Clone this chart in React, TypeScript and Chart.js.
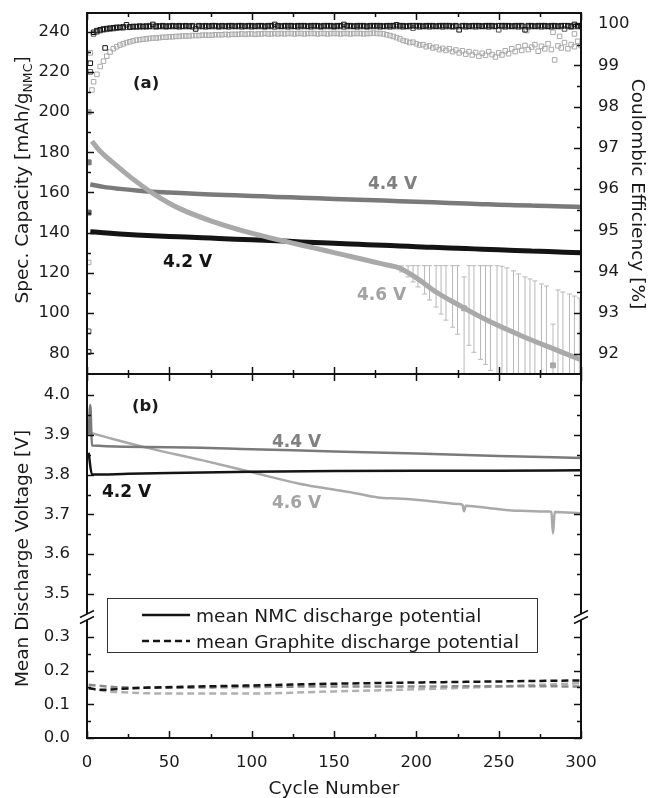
import { useEffect, useRef } from 'react';
import { Chart, registerables } from 'chart.js';

Chart.register(...registerables);

// ================= DATA =================
// (a) specific discharge capacity [mAh/g_NMC]
const capCycles = [2, 10, 20, 30, 40, 50, 60, 75, 90, 100, 115, 130, 150, 165, 180, 190, 200, 210, 220, 230, 240, 250, 260, 270, 280, 290, 300];
const cap42 = [140.5, 140.0, 139.4, 138.9, 138.5, 138.1, 137.8, 137.3, 136.8, 136.5, 136.0, 135.4, 134.7, 134.2, 133.7, 133.4, 133.0, 132.7, 132.4, 132.1, 131.8, 131.5, 131.2, 130.9, 130.6, 130.3, 130.0];
const cap44 = [164.0, 162.8, 161.8, 161.0, 160.4, 160.0, 159.6, 159.0, 158.6, 158.3, 157.8, 157.4, 156.8, 156.4, 156.0, 155.7, 155.4, 155.1, 154.8, 154.5, 154.2, 153.9, 153.7, 153.5, 153.3, 153.0, 152.8];
const cap46Cycles = [3, 8, 16, 26, 40, 56, 77, 97, 117, 137, 150, 162, 175, 182, 190, 196, 202, 212, 226, 243, 263, 283, 300];
const cap46 = [185.5, 180.5, 174.7, 167.9, 159.6, 152.1, 145.4, 140.4, 136.3, 132.6, 130.1, 127.8, 125.3, 124.0, 122.4, 119.6, 116.4, 110.5, 103.9, 96.4, 89.0, 82.3, 76.8];
const firstCycle = [1];
const cap42First = [150.0];
const cap44First = [175.0];
const cap46First = [200.0];
const cap46DipCycles = [229, 283];
const cap46Dips = [102.4, 74.0];

// 4.6 V error bars
const errCycles = [188, 191, 195, 198, 201, 205, 208, 212, 215, 218, 222, 225, 229, 232, 235, 239, 242, 245, 249, 252, 255, 259, 262, 266, 269, 272, 276, 279, 283, 286, 289, 293, 296, 299];
const errHigh = [123.5, 123.5, 123.5, 123.6, 123.6, 123.6, 123.6, 123.6, 123.6, 123.6, 123.6, 123.6, 118.0, 123.6, 123.6, 123.6, 123.6, 123.6, 123.6, 123.3, 122.5, 121.0, 119.5, 118.0, 117.0, 116.0, 114.5, 113.5, 94.5, 111.5, 110.5, 109.5, 108.5, 107.5];
const errLow = [122.5, 120.5, 118.0, 115.5, 113.0, 109.5, 106.5, 103.0, 99.5, 96.5, 93.0, 89.5, 60.0, 84.0, 80.5, 77.0, 74.5, 71.5, 60.0, 60.0, 60.0, 60.0, 60.0, 60.0, 60.0, 60.0, 60.0, 60.0, 60.0, 60.0, 60.0, 60.0, 60.0, 60.0];

// Coulombic efficiency [%]
const ceCycles = [
  4, 6, 8, 10, 12, 14, 16, 18, 20, 22,
  24, 26, 28, 30, 32, 34, 36, 38, 40, 42,
  44, 46, 48, 50, 52, 54, 56, 58, 60, 62,
  64, 66, 68, 70, 72, 74, 76, 78, 80, 82,
  84, 86, 88, 90, 92, 94, 96, 98, 100, 102,
  104, 106, 108, 110, 112, 114, 116, 118, 120, 122,
  124, 126, 128, 130, 132, 134, 136, 138, 140, 142,
  144, 146, 148, 150, 152, 154, 156, 158, 160, 162,
  164, 166, 168, 170, 172, 174, 176, 178, 180, 182,
  184, 186, 188, 190, 192, 194, 196, 198, 200, 202,
  204, 206, 208, 210, 212, 214, 216, 218, 220, 222,
  224, 226, 228, 230, 232, 234, 236, 238, 240, 242,
  244, 246, 248, 250, 252, 254, 256, 258, 260, 262,
  264, 266, 268, 270, 272, 274, 276, 278, 280, 282,
  284, 286, 288, 290, 292, 294, 296, 298, 300];
const ce46 = [
  98.60, 98.78, 98.97, 99.10, 99.22, 99.32, 99.40, 99.45, 99.49, 99.52,
  99.55, 99.57, 99.59, 99.61, 99.62, 99.63, 99.64, 99.65, 99.66, 99.66,
  99.67, 99.68, 99.68, 99.69, 99.69, 99.70, 99.70, 99.71, 99.71, 99.71,
  99.72, 99.72, 99.72, 99.73, 99.73, 99.73, 99.73, 99.74, 99.74, 99.74,
  99.75, 99.74, 99.75, 99.75, 99.75, 99.76, 99.75, 99.76, 99.76, 99.75,
  99.76, 99.76, 99.77, 99.76, 99.76, 99.77, 99.76, 99.77, 99.76, 99.77,
  99.77, 99.76, 99.77, 99.77, 99.76, 99.77, 99.77, 99.77, 99.76, 99.77,
  99.77, 99.76, 99.77, 99.77, 99.77, 99.76, 99.77, 99.77, 99.76, 99.77,
  99.77, 99.77, 99.76, 99.77, 99.77, 99.78, 99.77, 99.77, 99.76, 99.74,
  99.72, 99.70, 99.67, 99.64, 99.60, 99.58, 99.55, 99.56, 99.52, 99.49,
  99.50, 99.45, 99.47, 99.42, 99.44, 99.38, 99.41, 99.36, 99.40, 99.33,
  99.37, 99.30, 99.35, 99.27, 99.33, 99.25, 99.31, 99.22, 99.29, 99.24,
  99.33, 99.26, 99.20, 99.30, 99.25, 99.35, 99.28, 99.40, 99.33, 99.45,
  99.36, 99.48, 99.38, 99.44, 99.50, 99.34, 99.46, 99.40, 99.52, 99.38,
  99.13, 99.47, 99.42, 99.55, 99.40, 99.50, 99.45, 99.58, 99.48];
const ce42 = [
  99.80, 99.84, 99.86, 99.88, 99.89, 99.90, 99.91, 99.92, 99.92, 99.93,
  99.98, 99.93, 99.94, 99.94, 99.95, 99.94, 99.95, 99.95, 99.99, 99.95,
  99.95, 99.96, 99.95, 99.95, 99.96, 99.95, 99.96, 99.95, 99.96, 99.95,
  99.96, 99.88, 99.96, 99.95, 99.96, 99.95, 99.96, 99.96, 99.95, 99.96,
  99.95, 99.96, 99.96, 99.95, 99.96, 99.96, 99.95, 99.96, 99.96, 99.95,
  99.96, 99.96, 99.95, 99.96, 99.96, 99.99, 99.96, 99.95, 99.96, 99.96,
  99.96, 99.95, 99.96, 99.96, 99.96, 99.95, 99.96, 99.96, 99.96, 99.95,
  99.96, 99.96, 99.96, 99.95, 99.96, 99.96, 99.99, 99.96, 99.96, 99.95,
  99.96, 99.96, 99.96, 99.95, 99.96, 99.96, 99.96, 99.96, 99.95, 99.96,
  99.96, 99.96, 99.98, 99.96, 99.96, 99.95, 99.96, 99.96, 99.96, 99.96,
  99.95, 99.96, 99.96, 99.96, 99.95, 99.96, 99.96, 99.96, 99.96, 99.95,
  99.96, 99.86, 99.96, 99.96, 99.95, 99.96, 99.96, 99.96, 99.95, 99.96,
  99.96, 99.96, 99.95, 99.96, 99.96, 99.96, 99.96, 99.95, 99.96, 99.96,
  99.96, 99.86, 99.96, 99.96, 99.95, 99.96, 99.96, 99.96, 99.95, 99.96,
  99.96, 99.95, 99.96, 99.96, 99.96, 99.95, 99.99, 99.96, 99.96];
const ce44 = [
  99.76, 99.81, 99.84, 99.86, 99.87, 99.88, 99.89, 99.90, 99.91, 99.91,
  99.92, 99.92, 99.93, 99.93, 99.93, 99.94, 99.93, 99.94, 99.94, 99.93,
  99.94, 99.94, 99.93, 99.94, 99.94, 99.94, 99.93, 99.94, 99.94, 99.94,
  99.93, 99.94, 99.94, 99.94, 99.93, 99.94, 99.94, 99.94, 99.93, 99.94,
  99.94, 99.93, 99.94, 99.94, 99.94, 99.93, 99.94, 99.94, 99.93, 99.94,
  99.94, 99.94, 99.93, 99.94, 99.94, 99.93, 99.94, 99.94, 99.94, 99.93,
  99.94, 99.94, 99.93, 99.94, 99.94, 99.94, 99.93, 99.94, 99.94, 99.93,
  99.94, 99.94, 99.94, 99.93, 99.94, 99.94, 99.93, 99.94, 99.94, 99.94,
  99.93, 99.94, 99.94, 99.93, 99.94, 99.94, 99.94, 99.93, 99.94, 99.94,
  99.93, 99.94, 99.94, 99.94, 99.93, 99.94, 99.94, 99.90, 99.94, 99.93,
  99.94, 99.94, 99.93, 99.94, 99.94, 99.94, 99.93, 99.94, 99.94, 99.93,
  99.94, 99.94, 99.94, 99.93, 99.94, 99.94, 99.93, 99.94, 99.94, 99.94,
  99.93, 99.94, 99.94, 99.86, 99.94, 99.93, 99.94, 99.94, 99.94, 99.93,
  99.94, 99.94, 99.93, 99.94, 99.94, 99.94, 99.93, 99.94, 99.94, 99.93,
  99.94, 99.94, 99.94, 99.88, 99.94, 99.93, 99.94, 99.94, 99.94];
const ce42ExtraCycles = [1, 2, 11];
const ce42Extra = [92.05, 99.05, 99.42];
const ce44ExtraCycles = [1, 2];
const ce44Extra = [92.55, 98.84];
const ce46ExtraCycles = [1, 2, 3, 267, 283, 287, 296];
const ce46Extra = [94.22, 99.30, 98.40, 99.84, 99.80, 99.70, 99.76];

// (b) mean NMC discharge potential [V]
const v42Cycles = [1, 3, 25, 50, 100, 150, 200, 250, 300];
const v42 = [3.855, 3.800, 3.802, 3.804, 3.807, 3.809, 3.810, 3.810, 3.811];
const v44Cycles = [1, 2, 3, 50, 100, 150, 200, 250, 300];
const v44 = [3.900, 3.975, 3.873, 3.869, 3.864, 3.858, 3.853, 3.847, 3.842];
const v46Cycles = [2, 10, 18, 38, 69, 99, 129, 141, 162, 180, 188, 212, 226, 228, 229, 230, 246, 263, 281, 282, 283, 284, 300];
const v46 = [3.905, 3.896, 3.887, 3.866, 3.837, 3.807, 3.777, 3.768, 3.754, 3.741, 3.740, 3.732, 3.726, 3.724, 3.708, 3.722, 3.715, 3.709, 3.707, 3.706, 3.652, 3.706, 3.703];

// mean graphite discharge potential [V]
const g42Cycles = [1, 8, 28, 48, 89, 147, 202, 250, 300];
const g42 = [0.148, 0.143, 0.148, 0.151, 0.155, 0.161, 0.165, 0.168, 0.171];
const g44Cycles = [1, 18, 48, 89, 147, 202, 250, 300];
const g44 = [0.158, 0.151, 0.149, 0.151, 0.153, 0.153, 0.154, 0.153];
const g46Cycles = [1, 10, 25, 50, 100, 147, 202, 250, 275, 300];
const g46 = [0.150, 0.140, 0.135, 0.132, 0.132, 0.138, 0.145, 0.153, 0.158, 0.163];

// tick values
const xTickValues = [0, 50, 100, 150, 200, 250, 300];
const xMinorTicks = [25, 75, 125, 175, 225, 275];
const capTickValues = [80, 100, 120, 140, 160, 180, 200, 220, 240];
const capMinorTicks = [90, 110, 130, 150, 170, 190, 210, 230];
const ceTickValues = [92, 93, 94, 95, 96, 97, 98, 99, 100];
const ceMinorTicks = [92.5, 93.5, 94.5, 95.5, 96.5, 97.5, 98.5, 99.5];
const vTickValues = [3.5, 3.6, 3.7, 3.8, 3.9, 4.0];
const vMinorTicks = [3.55, 3.65, 3.75, 3.85, 3.95];
const gTickValues = [0.0, 0.1, 0.2, 0.3];
const gMinorTicks = [0.05, 0.15, 0.25];

// text
const panelLabels = ['(a)', '(b)'];
const voltageLabels = ['4.2 V', '4.4 V', '4.6 V'];
const legendLabels = ['mean NMC discharge potential', 'mean Graphite discharge potential'];

// ================= STYLE =================
const C42 = '#141414';
const C44 = '#7a7a7a';
const C46 = '#a9a9a9';
const CERR = '#b8b8b8';
const FAM = '"DejaVu Sans", sans-serif';
const TXT = '#1a1a1a';

const xy = (xs: number[], ys: number[]) => xs.map((x, i) => ({ x, y: ys[i] }));

const lineDs = (label: string, xs: number[], ys: number[], color: string, width: number, yAxisID: string, extra: any = {}) => ({
  label,
  data: xy(xs, ys),
  borderColor: color,
  backgroundColor: color,
  borderWidth: width,
  pointRadius: 0,
  pointHoverRadius: 0,
  fill: false,
  cubicInterpolationMode: 'monotone',
  xAxisID: 'x',
  yAxisID,
  ...extra,
});

const pointDs = (label: string, xs: number[], ys: number[], color: string, yAxisID: string, filled: boolean, radius: number, style = 'rect') => ({
  label,
  data: xy(xs, ys),
  showLine: false,
  pointStyle: style,
  pointRadius: radius,
  pointHoverRadius: radius,
  pointBorderWidth: 1,
  borderWidth: 1,
  borderColor: color,
  pointBorderColor: color,
  pointBackgroundColor: filled ? color : 'rgba(0,0,0,0)',
  backgroundColor: filled ? color : 'rgba(0,0,0,0)',
  xAxisID: 'x',
  yAxisID,
});

const errSegments = errCycles.flatMap((c, i) => [
  { x: c, y: errLow[i] },
  { x: c, y: errHigh[i] },
  { x: c, y: null as any },
]);

const tickFont = { family: FAM, size: 16.5 };

const yScale = (opts: any, ticks: number[], fmt: (v: number) => string, width: number) => ({
  type: 'linear',
  grid: { display: false },
  border: { display: false },
  ticks: {
    font: tickFont,
    color: TXT,
    padding: 9,
    autoSkip: false,
    includeBounds: false,
    callback: (v: any) => fmt(Number(v)),
  },
  afterBuildTicks: (s: any) => {
    s.ticks = ticks.map((value) => ({ value }));
  },
  afterFit: (s: any) => {
    s.width = width;
    s.paddingTop = 0;
    s.paddingBottom = 0;
  },
  ...opts,
});

const framePlugin = {
  id: 'framePlugin',
  afterDraw(chart: any) {
    const ctx = chart.ctx as CanvasRenderingContext2D;
    const sx = chart.scales.x;
    const yc = chart.scales.yCap;
    const yce = chart.scales.yCE;
    const yv = chart.scales.yV;
    const yg = chart.scales.yG;
    const L = chart.chartArea.left;
    const R = chart.chartArea.right;
    const T = yc.top;
    const M = yc.bottom;
    const K = yg.top;
    const B = yg.bottom;

    const seg = (x1: number, y1: number, x2: number, y2: number) => {
      ctx.beginPath();
      ctx.moveTo(x1, y1);
      ctx.lineTo(x2, y2);
      ctx.stroke();
    };

    ctx.save();
    // legend box
    ctx.fillStyle = '#fff';
    ctx.fillRect(107.5, 598.5, 430, 54);
    ctx.strokeStyle = '#333';
    ctx.lineWidth = 1;
    ctx.strokeRect(107.5, 598.5, 430, 54);
    ctx.strokeStyle = C42;
    ctx.lineWidth = 2.5;
    seg(142, 615, 190, 615);
    ctx.setLineDash([7, 4]);
    seg(142, 641, 190, 641);
    ctx.setLineDash([]);
    ctx.fillStyle = TXT;
    ctx.font = `18.5px ${FAM}`;
    ctx.textAlign = 'left';
    ctx.textBaseline = 'alphabetic';
    ctx.fillText(legendLabels[0], 196, 622);
    ctx.fillText(legendLabels[1], 196, 648);

    // frames
    ctx.strokeStyle = '#111';
    ctx.lineWidth = 2;
    ctx.lineCap = 'square';
    seg(L, T, R, T);
    seg(L, M, R, M);
    seg(L, B, R, B);
    seg(L, T, L, M);
    seg(R, T, R, M);
    ctx.lineCap = 'butt';
    seg(L, M, L, K - 3);
    seg(L, K + 3, L, B);
    seg(R, M, R, K - 3);
    seg(R, K + 3, R, B);

    // break marks
    ctx.lineWidth = 1.5;
    for (const bx of [L, R]) {
      for (const by of [K - 3, K + 3]) {
        seg(bx - 7, by + 3.5, bx + 7, by - 3.5);
      }
    }

    // ticks
    ctx.lineWidth = 1.5;
    const MAJ = 7;
    const MIN = 4;
    const vTicks = (scale: any, vals: number[], x: number, dir: number, len: number) => {
      for (const v of vals) {
        const py = Math.round(scale.getPixelForValue(v)) + 0.5;
        seg(x, py, x + dir * len, py);
      }
    };
    const hTicks = (vals: number[], y: number, dir: number, len: number) => {
      for (const v of vals) {
        const px = Math.round(sx.getPixelForValue(v)) + 0.5;
        seg(px, y, px, y + dir * len);
      }
    };
    vTicks(yc, capTickValues, L, 1, MAJ);
    vTicks(yc, capMinorTicks, L, 1, MIN);
    vTicks(yce, ceTickValues, R, -1, MAJ);
    vTicks(yce, ceMinorTicks, R, -1, MIN);
    for (const [x, d] of [[L, 1], [R, -1]]) {
      vTicks(yv, vTickValues, x, d, MAJ);
      vTicks(yv, vMinorTicks, x, d, MIN);
      vTicks(yg, gTickValues, x, d, MAJ);
      vTicks(yg, gMinorTicks, x, d, MIN);
    }
    hTicks(xTickValues, T, 1, MAJ);
    hTicks(xMinorTicks, T, 1, MIN);
    hTicks(xTickValues, M, -1, MAJ);
    hTicks(xMinorTicks, M, -1, MIN);
    hTicks(xTickValues, M, 1, MAJ);
    hTicks(xMinorTicks, M, 1, MIN);
    hTicks(xTickValues, B, -1, MAJ);
    hTicks(xMinorTicks, B, -1, MIN);

    // axis titles
    const rich = (parts: { t: string; size: number; dy: number }[], x: number, y: number, rot: number) => {
      ctx.save();
      ctx.translate(x, y);
      ctx.rotate(rot);
      ctx.fillStyle = TXT;
      ctx.textAlign = 'left';
      ctx.textBaseline = 'alphabetic';
      let total = 0;
      for (const p of parts) {
        ctx.font = `${p.size}px ${FAM}`;
        total += ctx.measureText(p.t).width;
      }
      let cx = -total / 2;
      for (const p of parts) {
        ctx.font = `${p.size}px ${FAM}`;
        ctx.fillText(p.t, cx, p.dy);
        cx += ctx.measureText(p.t).width;
      }
      ctx.restore();
    };
    rich([
      { t: 'Spec. Capacity [mAh/g', size: 18.5, dy: 0 },
      { t: 'NMC', size: 12.5, dy: 4 },
      { t: ']', size: 18.5, dy: 0 },
    ], 27.5, 180, -Math.PI / 2);
    rich([{ t: 'Mean Discharge Voltage [V]', size: 18.5, dy: 0 }], 27.5, 558.5, -Math.PI / 2);
    rich([{ t: 'Coulombic Efficiency [%]', size: 18.5, dy: 0 }], 632, 194, Math.PI / 2);
    rich([{ t: 'Cycle Number', size: 18.5, dy: 0 }], (L + R) / 2, 794, 0);

    // annotations
    ctx.textAlign = 'left';
    ctx.textBaseline = 'alphabetic';
    ctx.font = `bold 16.5px ${FAM}`;
    ctx.fillStyle = TXT;
    ctx.fillText(panelLabels[0], 133, 88);
    ctx.fillText(panelLabels[1], 132, 411);
    ctx.font = `bold 17px ${FAM}`;
    ctx.fillStyle = C42;
    ctx.fillText(voltageLabels[0], 163, 266.5);
    ctx.fillText(voltageLabels[0], 102, 497);
    ctx.fillStyle = '#808080';
    ctx.fillText(voltageLabels[1], 368, 189);
    ctx.fillText(voltageLabels[1], 272, 447);
    ctx.fillStyle = '#a3a3a3';
    ctx.fillText(voltageLabels[2], 357, 299.5);
    ctx.fillText(voltageLabels[2], 272, 508);
    ctx.restore();
  },
};

export default function App() {
  const ref = useRef<HTMLCanvasElement>(null);

  useEffect(() => {
    const canvas = ref.current;
    if (!canvas) return;
    const datasets: any[] = [
      lineDs('cap 4.6 V', cap46Cycles, cap46, C46, 5, 'yCap'),
      lineDs('cap 4.4 V', capCycles, cap44, C44, 4.5, 'yCap'),
      lineDs('cap 4.2 V', capCycles, cap42, C42, 5, 'yCap'),
      pointDs('cap 4.6 V first', firstCycle, cap46First, C46, 'yCap', true, 3.5),
      pointDs('cap 4.4 V first', firstCycle, cap44First, C44, 'yCap', true, 3.5),
      pointDs('cap 4.2 V first', firstCycle, cap42First, '#666', 'yCap', true, 3.5),
      pointDs('cap 4.6 V dips', cap46DipCycles, cap46Dips, C46, 'yCap', true, 3.5),
      pointDs('err caps high', errCycles, errHigh, CERR, 'yCap', false, 2.5, 'line'),
      pointDs('err caps low', errCycles, errLow, CERR, 'yCap', false, 2.5, 'line'),
      lineDs('err bars', [], [], CERR, 1, 'yCap', { data: errSegments, spanGaps: false, cubicInterpolationMode: 'default', tension: 0 }),
      pointDs('CE 4.2 V', ceCycles, ce42, C42, 'yCE', false, 3.2),
      pointDs('CE 4.2 V extra', ce42ExtraCycles, ce42Extra, C42, 'yCE', false, 3.2),
      pointDs('CE 4.4 V', ceCycles, ce44, '#555', 'yCE', false, 3.2),
      pointDs('CE 4.4 V extra', ce44ExtraCycles, ce44Extra, '#555', 'yCE', false, 3.2),
      pointDs('CE 4.6 V', ceCycles, ce46, C46, 'yCE', false, 3.2),
      pointDs('CE 4.6 V extra', ce46ExtraCycles, ce46Extra, C46, 'yCE', false, 3.2),
      lineDs('V 4.2 V', v42Cycles, v42, C42, 2.5, 'yV'),
      lineDs('V 4.4 V', v44Cycles, v44, C44, 2.5, 'yV'),
      lineDs('V 4.6 V', v46Cycles, v46, C46, 2.5, 'yV'),
      lineDs('G 4.2 V', g42Cycles, g42, C42, 2.5, 'yG', { borderDash: [7, 4] }),
      lineDs('G 4.4 V', g44Cycles, g44, '#8a8a8a', 2.5, 'yG', { borderDash: [7, 4] }),
      lineDs('G 4.6 V', g46Cycles, g46, '#b0b0b0', 2.5, 'yG', { borderDash: [7, 4] }),
    ];

    const chart = new Chart(canvas, {
      type: 'line',
      data: { datasets },
      plugins: [framePlugin],
      options: {
        responsive: false,
        animation: false,
        devicePixelRatio: 1,
        events: [],
        layout: { padding: { top: 13, left: 0, right: 0, bottom: 0 } },
        plugins: { legend: { display: false }, tooltip: { enabled: false } },
        scales: {
          x: {
            type: 'linear',
            position: 'bottom',
            min: 0,
            max: 300,
            grid: { display: false },
            border: { display: false },
            ticks: { font: tickFont, color: TXT, padding: 7, autoSkip: false, maxRotation: 0, callback: (v: any) => String(v) },
            afterBuildTicks: (s: any) => {
              s.ticks = xTickValues.map((value) => ({ value }));
            },
            afterFit: (s: any) => {
              s.height = 60;
              s.paddingLeft = 0;
              s.paddingRight = 0;
            },
          },
          yCap: yScale({ position: 'left', stack: 'left', stackWeight: 361, weight: 3, min: 69.7, max: 249.3 }, capTickValues, (v) => String(v), 87),
          yV: yScale({ position: 'left', stack: 'left', stackWeight: 243, weight: 2, min: 3.4422, max: 4.0528 }, vTickValues, (v) => v.toFixed(1), 87),
          yG: yScale({ position: 'left', stack: 'left', stackWeight: 121, weight: 1, min: 0, max: 0.3594 }, gTickValues, (v) => v.toFixed(1), 87),
          yCE: yScale({ position: 'right', stack: 'right', stackWeight: 361, weight: 1, min: 91.515, max: 100.267 }, ceTickValues, (v) => String(v), 69),
          yR2: yScale({ position: 'right', stack: 'right', stackWeight: 364, weight: 2, min: 0, max: 1 }, [], (v) => String(v), 69),
        },
      } as any,
    } as any);
    return () => chart.destroy();
  }, []);

  return (
    <div style={{ position: 'fixed', left: 0, top: 0, width: 650, height: 798, background: '#fff' }}>
      <canvas ref={ref} width={650} height={798} style={{ display: 'block', width: 650, height: 798 }} />
    </div>
  );
}
